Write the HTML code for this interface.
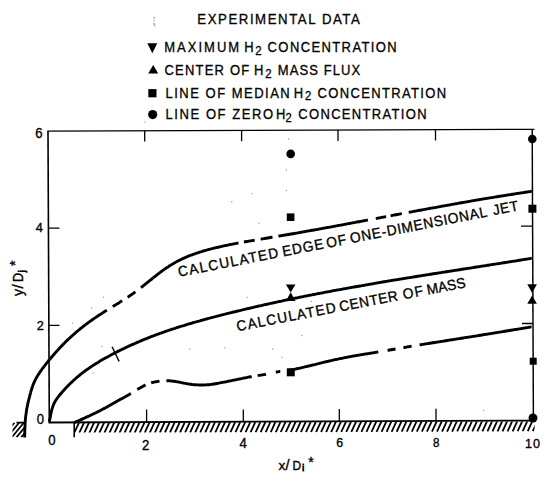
<!DOCTYPE html>
<html><head><meta charset="utf-8"><style>
html,body{margin:0;padding:0;background:#fff;width:550px;height:482px;overflow:hidden}
svg{display:block}
text{font-family:"Liberation Sans",sans-serif}
</style></head><body>
<svg width="550" height="482" viewBox="0 0 550 482">
<rect width="550" height="482" fill="#fff"/>
<defs><clipPath id="hc"><rect x="74.6" y="421.5" width="460" height="11"/></clipPath><clipPath id="hl"><rect x="12.5" y="422.5" width="12.5" height="15"/></clipPath></defs>
<g stroke="#000" fill="none" stroke-linecap="butt">
<path d="M48 131.2 L49.3 422.6" stroke-width="1.6"/>
<path d="M47.2 131.2 L534.5 129.3" stroke-width="1.35"/>
<path d="M532.2 129.3 L533.4 421" stroke-width="1.45"/>
<path d="M48.5 422.5 L535 420.6" stroke-width="1.8"/>
<path d="M16.5 422.6 L25 422.6" stroke-width="1.8"/>
<path d="M74.2 422.5 L74.2 437.3" stroke-width="1.6"/>
<path d="M48.5 228.2 L59.4 228.2 M49 325.4 L59.5 325.4" stroke-width="1.3"/>
<path d="M144.7 130.7 L144.7 141.5 M241.6 130.3 L241.6 141.3 M338 130 L338 141 M435.5 129.6 L435.5 140.5" stroke-width="1.3"/>
<path d="M146.6 422 L146.6 409.6 M243.3 421.7 L243.3 409.4 M339.3 421.3 L339.3 409 M436 420.9 L436 408.8" stroke-width="1.3"/>
<path d="M521 226.2 L532.5 226.2 M522 323.5 L532.8 323.5" stroke-width="1.3"/>
<g clip-path="url(#hc)"><g transform="rotate(-0.24 74.6 422)"><path d="M69.06 433.10 L73.86 422.80 M74.10 433.10 L78.90 422.80 M79.14 433.10 L83.94 422.80 M84.18 433.10 L88.98 422.80 M89.22 433.10 L94.02 422.80 M94.26 433.10 L99.06 422.80 M99.30 433.10 L104.10 422.80 M104.34 433.10 L109.14 422.80 M109.38 433.10 L114.18 422.80 M114.42 433.10 L119.22 422.80 M119.46 433.10 L124.26 422.80 M124.50 433.10 L129.30 422.80 M129.54 433.10 L134.34 422.80 M134.58 433.10 L139.38 422.80 M139.62 433.10 L144.42 422.80 M144.66 433.10 L149.46 422.80 M149.70 433.10 L154.50 422.80 M154.74 433.10 L159.54 422.80 M159.78 433.10 L164.58 422.80 M164.82 433.10 L169.62 422.80 M169.86 433.10 L174.66 422.80 M174.90 433.10 L179.70 422.80 M179.94 433.10 L184.74 422.80 M184.98 433.10 L189.78 422.80 M190.02 433.10 L194.82 422.80 M195.06 433.10 L199.86 422.80 M200.10 433.10 L204.90 422.80 M205.14 433.10 L209.94 422.80 M210.18 433.10 L214.98 422.80 M215.22 433.10 L220.02 422.80 M220.26 433.10 L225.06 422.80 M225.30 433.10 L230.10 422.80 M230.34 433.10 L235.14 422.80 M235.38 433.10 L240.18 422.80 M240.42 433.10 L245.22 422.80 M245.46 433.10 L250.26 422.80 M250.50 433.10 L255.30 422.80 M255.54 433.10 L260.34 422.80 M260.58 433.10 L265.38 422.80 M265.62 433.10 L270.42 422.80 M270.66 433.10 L275.46 422.80 M275.70 433.10 L280.50 422.80 M280.74 433.10 L285.54 422.80 M285.78 433.10 L290.58 422.80 M290.82 433.10 L295.62 422.80 M295.86 433.10 L300.66 422.80 M300.90 433.10 L305.70 422.80 M305.94 433.10 L310.74 422.80 M310.98 433.10 L315.78 422.80 M316.02 433.10 L320.82 422.80 M321.06 433.10 L325.86 422.80 M326.10 433.10 L330.90 422.80 M331.14 433.10 L335.94 422.80 M336.18 433.10 L340.98 422.80 M341.22 433.10 L346.02 422.80 M346.26 433.10 L351.06 422.80 M351.30 433.10 L356.10 422.80 M356.34 433.10 L361.14 422.80 M361.38 433.10 L366.18 422.80 M366.42 433.10 L371.22 422.80 M371.46 433.10 L376.26 422.80 M376.50 433.10 L381.30 422.80 M381.54 433.10 L386.34 422.80 M386.58 433.10 L391.38 422.80 M391.62 433.10 L396.42 422.80 M396.66 433.10 L401.46 422.80 M401.70 433.10 L406.50 422.80 M406.74 433.10 L411.54 422.80 M411.78 433.10 L416.58 422.80 M416.82 433.10 L421.62 422.80 M421.86 433.10 L426.66 422.80 M426.90 433.10 L431.70 422.80 M431.94 433.10 L436.74 422.80 M436.98 433.10 L441.78 422.80 M442.02 433.10 L446.82 422.80 M447.06 433.10 L451.86 422.80 M452.10 433.10 L456.90 422.80 M457.14 433.10 L461.94 422.80 M462.18 433.10 L466.98 422.80 M467.22 433.10 L472.02 422.80 M472.26 433.10 L477.06 422.80 M477.30 433.10 L482.10 422.80 M482.34 433.10 L487.14 422.80 M487.38 433.10 L492.18 422.80 M492.42 433.10 L497.22 422.80 M497.46 433.10 L502.26 422.80 M502.50 433.10 L507.30 422.80 M507.54 433.10 L512.34 422.80 M512.58 433.10 L517.38 422.80 M517.62 433.10 L522.42 422.80 M522.66 433.10 L527.46 422.80 M527.70 433.10 L532.50 422.80 M532.74 433.10 L537.54 422.80 M537.78 433.10 L542.58 422.80 M542.82 433.10 L547.62 422.80 " stroke-width="1.8"/></g></g>
<g clip-path="url(#hl)"><path d="M-7.00 437.30 L5.00 422.80 M-2.30 437.30 L9.70 422.80 M2.40 437.30 L14.40 422.80 M7.10 437.30 L19.10 422.80 M11.80 437.30 L23.80 422.80 M16.50 437.30 L28.50 422.80 M21.20 437.30 L33.20 422.80 M25.90 437.30 L37.90 422.80 M30.60 437.30 L42.60 422.80 " stroke-width="1.8"/></g>
<path d="M24.7 437.5 L24.7 436.5 L24.7 435.5 L24.7 434.5 L24.8 433.5 L24.8 432.5 L24.8 431.5 L24.8 430.5 L24.8 429.5 L24.9 428.5 L24.9 427.5 L25.0 426.5 L25.0 425.5 L25.1 424.5 L25.1 423.5 L25.2 422.5 L25.3 421.5 L25.3 420.5 L25.4 419.5 L25.5 418.5 L25.6 417.5 L25.7 416.5 L25.8 415.5 L26.0 414.6 L26.1 413.6 L26.2 412.6 L26.4 411.6 L26.5 410.6 L26.7 409.6 L26.8 408.6 L27.0 407.6 L27.2 406.7 L27.4 405.7 L27.6 404.7 L27.8 403.7 L28.0 402.7 L28.3 401.8 L28.5 400.8 L28.7 399.8 L29.0 398.9 L29.2 397.9 L29.5 396.9 L29.7 396.0 L30.0 395.0 L30.2 394.0 L30.5 393.1 L30.7 392.1 L31.0 391.1 L31.3 390.2 L31.6 389.2 L31.9 388.3 L32.2 387.3 L32.5 386.4 L32.8 385.4 L33.2 384.5 L33.6 383.6 L34.0 382.7 L34.4 381.7 L34.8 380.8 L35.2 380.0 L35.7 379.1 L36.2 378.2 L36.7 377.3 L37.2 376.5 L37.7 375.6 L38.2 374.8 L38.8 373.9 L39.3 373.1 L39.9 372.3 L40.4 371.4 L41.0 370.6 L41.6 369.8 L42.2 369.0 L42.8 368.2 L43.4 367.4 L44.0 366.6 L44.6 365.8 L45.2 365.0 L45.8 364.2 L46.4 363.4 L47.0 362.7 L47.7 361.9 L48.3 361.1 L48.9 360.3 L49.6 359.6 L50.2 358.8 L50.9 358.0 L51.5 357.3 L52.1 356.5 L52.8 355.7 L53.4 355.0 L54.1 354.2 L54.8 353.5 L55.4 352.7 L56.1 352.0 L56.7 351.2 L57.4 350.5 L58.1 349.7 L58.8 349.0 L59.4 348.3 L60.1 347.5 L60.8 346.8 L61.5 346.1 L62.2 345.4 L62.9 344.6 L63.6 343.9 L64.3 343.2 L65.0 342.5 L65.7 341.8 L66.4 341.1 L67.1 340.4 L67.9 339.7 L68.6 339.0 L69.3 338.3 L70.1 337.7 L70.8 337.0 L71.5 336.3 L72.3 335.6 L73.0 335.0 L73.8 334.3 L74.5 333.7 L75.3 333.0 L76.0 332.3 L76.8 331.7 L77.5 331.0 L78.3 330.4 L79.1 329.8 L79.9 329.1 L80.6 328.5 L81.4 327.9 L82.2 327.3 L83.0 326.6 L83.8 326.0 L84.6 325.4 L85.4 324.8 L86.2 324.2 L87.0 323.6 L87.8 323.0 L88.6 322.4 L89.4 321.8 L90.2 321.2 L91.0 320.7 L91.8 320.1 L92.6 319.5 L93.4 318.9 L94.3 318.4 L95.1 317.8 L95.9 317.2 L96.8 316.7 L97.6 316.1 L98.4 315.6 L99.3 315.0 L100.1 314.5 L100.9 313.9 L101.8 313.4 L102.6 312.9 L103.5 312.3 L104.3 311.8 L105.2 311.3 L106.0 310.7 L106.9 310.2 M112.8 306.6 L113.7 306.0 L114.5 305.5 L115.4 305.0 L116.2 304.5 L117.1 303.9 L117.9 303.4 L118.8 302.9 L119.6 302.4 L120.5 301.8 L121.3 301.3 L122.2 300.8 M127.6 297.2 L128.5 296.7 L129.3 296.1 L130.1 295.6 L130.9 295.0 L131.8 294.4 L132.6 293.9 L133.4 293.3 L134.2 292.7 L135.0 292.1 L135.4 291.8 M141.0 287.6 L141.8 287.0 L142.6 286.4 L143.4 285.7 L144.2 285.1 L144.9 284.5 L145.7 283.9 L146.5 283.2 L147.3 282.6 L148.1 282.0 L148.8 281.4 L149.6 280.7 L150.4 280.1 L151.2 279.5 L151.9 278.9 L152.7 278.2 L153.5 277.6 L154.3 277.0 L155.1 276.4 L155.9 275.7 L156.7 275.1 L157.4 274.5 L158.2 273.9 L159.0 273.3 L159.8 272.7 L160.6 272.1 L161.4 271.5 L162.2 270.9 L163.0 270.3 L163.8 269.7 L164.7 269.1 L165.5 268.6 L166.3 268.0 L167.1 267.4 L168.0 266.9 L168.8 266.4 L169.6 265.8 L170.5 265.3 L171.3 264.8 L172.2 264.2 L173.1 263.7 L173.9 263.2 L174.8 262.7 L175.7 262.2 L176.5 261.8 L177.4 261.3 L178.3 260.8 L179.2 260.4 L180.1 259.9 L181.0 259.5 L181.9 259.0 L182.8 258.6 L183.7 258.2 L184.6 257.8 L185.5 257.4 L186.4 257.0 L187.4 256.6 L188.3 256.2 L189.2 255.8 L190.1 255.5 L191.1 255.1 L192.0 254.8 L192.9 254.4 L193.9 254.1 L194.8 253.8 L195.8 253.4 L196.7 253.1 L197.7 252.8 L198.6 252.5 L199.6 252.2 L200.5 251.9 L201.5 251.6 L202.4 251.3 L203.4 251.0 L204.4 250.7 L205.3 250.5 L206.3 250.2 L207.2 249.9 L208.2 249.7 L209.2 249.4 L210.1 249.2 L211.1 248.9 L212.1 248.7 L213.1 248.4 L214.0 248.2 L215.0 247.9 L216.0 247.7 L216.9 247.5 L217.9 247.3 L218.9 247.0 L219.9 246.8 L220.8 246.6 L221.8 246.4 L222.8 246.2 L223.8 245.9 L224.7 245.7 L225.7 245.5 L226.7 245.3 L227.7 245.1 L228.7 244.9 L229.6 244.7 L230.6 244.5 L231.6 244.3 L232.6 244.1 L233.6 243.9 L234.5 243.7 L235.5 243.6 L236.5 243.4 L237.5 243.2 L238.5 243.0 M243.9 242.0 L244.9 241.8 L245.9 241.7 L246.8 241.5 L247.8 241.3 L248.8 241.1 L249.8 241.0 L250.8 240.8 L251.8 240.6 L252.7 240.5 L253.7 240.3 L254.7 240.1 M260.6 239.1 L261.6 239.0 L262.6 238.8 L263.6 238.6 L264.6 238.5 L265.6 238.3 L266.6 238.2 L267.5 238.0 L268.5 237.8 L269.5 237.7 L270.5 237.5 L271.5 237.3 L272.5 237.2 M278.4 236.2 L279.4 236.0 L280.4 235.9 L281.4 235.7 L282.3 235.5 L283.3 235.4 L284.3 235.2 L285.3 235.0 L286.3 234.8 L287.3 234.7 L288.3 234.5 L289.2 234.3 L290.2 234.2 L291.2 234.0 L292.2 233.8 L293.2 233.7 L294.2 233.5 L295.2 233.3 L296.1 233.1 L297.1 233.0 L298.1 232.8 L299.1 232.6 L300.1 232.4 L301.1 232.3 L302.0 232.1 L303.0 231.9 L304.0 231.7 L305.0 231.6 L306.0 231.4 L307.0 231.2 L308.0 231.0 L308.9 230.9 L309.9 230.7 L310.9 230.5 L311.9 230.3 L312.9 230.2 L313.9 230.0 L314.8 229.8 L315.8 229.6 L316.8 229.5 L317.8 229.3 L318.8 229.1 L319.8 228.9 L320.7 228.7 L321.7 228.6 L322.7 228.4 L323.7 228.2 L324.7 228.0 L325.7 227.9 L326.7 227.7 L327.6 227.5 L328.6 227.3 L329.6 227.1 L330.6 227.0 L331.6 226.8 L332.6 226.6 L333.5 226.4 L334.5 226.2 L335.5 226.1 L336.5 225.9 L337.5 225.7 L338.5 225.5 L339.4 225.3 L340.4 225.1 L341.4 225.0 L342.4 224.8 L343.4 224.6 L344.4 224.4 L345.3 224.2 L346.3 224.1 L347.3 223.9 L348.3 223.7 L349.3 223.5 L350.3 223.3 L351.2 223.1 L352.2 222.9 L353.2 222.8 L354.2 222.6 L355.2 222.4 L356.1 222.2 L357.1 222.0 L358.1 221.8 L359.1 221.7 L360.1 221.5 L361.1 221.3 L362.0 221.1 L363.0 220.9 L364.0 220.7 L365.0 220.6 L366.0 220.4 L367.0 220.2 L367.9 220.0 M375.8 218.5 L376.8 218.4 L377.8 218.2 L378.8 218.0 L379.7 217.8 L380.7 217.6 L381.7 217.4 L382.7 217.2 L383.7 217.1 L384.7 216.9 L385.6 216.7 L386.1 216.6 M390.6 215.8 L391.5 215.6 L392.5 215.4 L393.5 215.2 L394.5 215.0 L395.5 214.8 L396.4 214.7 L397.4 214.5 L398.4 214.3 L399.4 214.1 L400.4 213.9 L401.4 213.7 L401.9 213.6 M408.7 212.3 L409.7 212.1 L410.7 212.0 L411.7 211.8 L412.7 211.6 L413.6 211.4 L414.6 211.2 L415.6 211.1 L416.6 210.9 L417.6 210.7 L418.6 210.5 L419.5 210.3 L420.5 210.2 L421.5 210.0 L422.5 209.8 L423.5 209.6 L424.5 209.4 L425.4 209.3 L426.4 209.1 L427.4 208.9 L428.4 208.7 L429.4 208.5 L430.4 208.4 L431.4 208.2 L432.3 208.0 L433.3 207.8 L434.3 207.6 L435.3 207.5 L436.3 207.3 L437.3 207.1 L438.2 206.9 L439.2 206.8 L440.2 206.6 L441.2 206.4 L442.2 206.2 L443.2 206.0 L444.1 205.9 L445.1 205.7 L446.1 205.5 L447.1 205.3 L448.1 205.1 L449.1 205.0 L450.0 204.8 L451.0 204.6 L452.0 204.4 L453.0 204.3 L454.0 204.1 L455.0 203.9 L456.0 203.7 L456.9 203.6 L457.9 203.4 L458.9 203.2 L459.9 203.0 L460.9 202.8 L461.9 202.7 L462.8 202.5 L463.8 202.3 L464.8 202.1 L465.8 202.0 L466.8 201.8 L467.8 201.6 L468.8 201.5 L469.7 201.3 L470.7 201.1 L471.7 200.9 L472.7 200.8 L473.7 200.6 L474.7 200.4 L475.6 200.3 L476.6 200.1 L477.6 199.9 L478.6 199.7 L479.6 199.6 L480.6 199.4 L481.6 199.2 L482.5 199.1 L483.5 198.9 L484.5 198.7 L485.5 198.6 L486.5 198.4 L487.5 198.3 L488.5 198.1 L489.5 197.9 L490.4 197.8 L491.4 197.6 L492.4 197.5 L493.4 197.3 L494.4 197.1 L495.4 197.0 L496.4 196.8 L497.4 196.7 L498.3 196.5 L499.3 196.3 L500.3 196.2 L501.3 196.0 L502.3 195.9 L503.3 195.7 L504.3 195.6 L505.3 195.4 L506.2 195.2 L507.2 195.1 L508.2 194.9 L509.2 194.8 L510.2 194.6 L511.2 194.5 L512.2 194.3 L513.2 194.2 L514.1 194.0 L515.1 193.9 L516.1 193.7 L517.1 193.5 L518.1 193.4 L519.1 193.2 L520.1 193.1 L521.1 192.9 L522.0 192.8 L523.0 192.6 L524.0 192.5 L525.0 192.3 L526.0 192.2 L527.0 192.0 L528.0 191.9 L529.0 191.7 L530.0 191.6 L530.9 191.4 L531.9 191.2 " stroke-width="2.9"/>
<path d="M49.3 421.5 L49.5 420.5 L49.7 419.6 L49.9 418.6 L50.2 417.6 L50.4 416.6 L50.5 415.6 L50.7 414.7 L50.9 413.7 L51.1 412.7 L51.4 411.7 L51.6 410.8 L51.8 409.8 L52.1 408.8 L52.4 407.9 L52.7 406.9 L53.0 406.0 L53.4 405.1 L53.7 404.2 L54.2 403.3 L54.6 402.4 L55.1 401.5 L55.6 400.6 L56.1 399.8 L56.7 399.0 L57.2 398.2 L57.8 397.4 L58.5 396.6 L59.1 395.8 L59.7 395.0 L60.3 394.3 L61.0 393.5 L61.6 392.7 L62.3 392.0 L62.9 391.2 L63.6 390.5 L64.3 389.7 L64.9 389.0 L65.6 388.3 L66.3 387.5 L67.0 386.8 L67.7 386.1 L68.4 385.4 L69.1 384.7 L69.8 384.0 L70.5 383.3 L71.2 382.6 L72.0 381.9 L72.7 381.2 L73.4 380.5 L74.2 379.9 L74.9 379.2 L75.7 378.5 L76.4 377.9 L77.2 377.2 L77.9 376.6 L78.7 375.9 L79.5 375.3 L80.2 374.7 L81.0 374.0 L81.8 373.4 L82.6 372.8 L83.4 372.2 L84.2 371.6 L85.0 371.0 L85.8 370.4 L86.6 369.8 L87.4 369.2 L88.2 368.7 L89.1 368.1 L89.9 367.5 L90.7 367.0 L91.5 366.4 L92.4 365.9 L93.2 365.3 L94.1 364.8 L94.9 364.3 L95.8 363.7 L96.6 363.2 L97.5 362.7 L98.3 362.2 L99.2 361.6 L100.0 361.1 L100.9 360.6 L101.8 360.1 L102.6 359.6 L103.5 359.1 L104.4 358.6 L105.2 358.1 L106.1 357.7 L107.0 357.2 L107.9 356.7 L108.7 356.2 L109.6 355.7 L110.5 355.3 L111.4 354.8 L112.3 354.3 L113.1 353.9 L114.0 353.4 L114.9 352.9 L115.8 352.5 L116.7 352.0 L117.6 351.6 L118.5 351.1 L119.4 350.7 L120.3 350.2 L121.2 349.8 L122.1 349.3 L123.0 348.9 L123.9 348.5 L124.8 348.0 L125.7 347.6 L126.6 347.2 L127.5 346.8 L128.4 346.3 L129.3 345.9 L130.2 345.5 L131.1 345.1 L132.0 344.7 L132.9 344.3 L133.9 343.9 L134.8 343.5 L135.7 343.1 L136.6 342.7 L137.5 342.3 L138.4 341.9 L139.4 341.5 L140.3 341.1 L141.2 340.7 L142.1 340.3 L143.0 339.9 L144.0 339.5 L144.9 339.2 L145.8 338.8 L146.8 338.4 L147.7 338.1 L148.6 337.7 L149.5 337.3 L150.5 337.0 L151.4 336.6 L152.3 336.2 L153.3 335.9 L154.2 335.5 L155.1 335.2 L156.1 334.8 L157.0 334.5 L158.0 334.1 L158.9 333.8 L159.8 333.5 L160.8 333.1 L161.7 332.8 L162.7 332.4 L163.6 332.1 L164.5 331.8 L165.5 331.4 L166.4 331.1 L167.4 330.8 L168.3 330.5 L169.3 330.1 L170.2 329.8 L171.2 329.5 L172.1 329.2 L173.1 328.9 L174.0 328.6 L175.0 328.3 L175.9 328.0 L176.9 327.6 L177.8 327.3 L178.8 327.0 L179.7 326.7 L180.7 326.4 L181.6 326.1 L182.6 325.9 L183.6 325.6 L184.5 325.3 L185.5 325.0 L186.4 324.7 L187.4 324.4 L188.3 324.1 L189.3 323.8 L190.3 323.5 L191.2 323.3 L192.2 323.0 L193.1 322.7 L194.1 322.4 L195.1 322.2 L196.0 321.9 L197.0 321.6 L197.9 321.3 L198.9 321.1 L199.9 320.8 L200.8 320.5 L201.8 320.3 L202.8 320.0 L203.7 319.7 L204.7 319.5 L205.7 319.2 L206.6 319.0 L207.6 318.7 L208.6 318.4 L209.5 318.2 L210.5 317.9 L211.5 317.7 L212.4 317.4 L213.4 317.2 L214.4 316.9 L215.3 316.6 L216.3 316.4 L217.3 316.1 L218.2 315.9 L219.2 315.6 L220.2 315.4 L221.1 315.1 L222.1 314.9 L223.1 314.7 L224.0 314.4 L225.0 314.2 L226.0 313.9 L227.0 313.7 L227.9 313.4 L228.9 313.2 L229.9 313.0 L230.8 312.7 L231.8 312.5 L232.8 312.2 L233.7 312.0 L234.7 311.8 L235.7 311.5 L236.7 311.3 L237.6 311.0 L238.6 310.8 L239.6 310.6 L240.5 310.3 L241.5 310.1 L242.5 309.9 L243.5 309.6 L244.4 309.4 L245.4 309.2 L246.4 309.0 L247.4 308.7 L248.3 308.5 L249.3 308.3 L250.3 308.0 L251.3 307.8 L252.2 307.6 L253.2 307.4 L254.2 307.1 L255.2 306.9 L256.1 306.7 L257.1 306.5 L258.1 306.2 L259.0 306.0 L260.0 305.8 L261.0 305.6 L262.0 305.4 L263.0 305.1 L263.9 304.9 L264.9 304.7 L265.9 304.5 L266.9 304.3 L267.8 304.0 L268.8 303.8 L269.8 303.6 L270.8 303.4 L271.7 303.2 L272.7 303.0 L273.7 302.8 L274.7 302.5 L275.6 302.3 L276.6 302.1 L277.6 301.9 L278.6 301.7 L279.6 301.5 L280.5 301.3 L281.5 301.1 L282.5 300.9 L283.5 300.7 L284.4 300.4 L285.4 300.2 L286.4 300.0 L287.4 299.8 L288.4 299.6 L289.3 299.4 L290.3 299.2 L291.3 299.0 L292.3 298.8 L293.3 298.6 L294.2 298.4 L295.2 298.2 L296.2 298.0 L297.2 297.8 L298.2 297.6 L299.1 297.4 L300.1 297.2 L301.1 297.0 L302.1 296.8 L303.1 296.6 L304.0 296.4 L305.0 296.2 L306.0 296.0 L307.0 295.8 L308.0 295.6 L308.9 295.4 L309.9 295.2 L310.9 295.1 L311.9 294.9 L312.9 294.7 L313.8 294.5 L314.8 294.3 L315.8 294.1 L316.8 293.9 L317.8 293.7 L318.8 293.5 L319.7 293.3 L320.7 293.1 L321.7 293.0 L322.7 292.8 L323.7 292.6 L324.6 292.4 L325.6 292.2 L326.6 292.0 L327.6 291.8 L328.6 291.6 L329.6 291.5 L330.5 291.3 L331.5 291.1 L332.5 290.9 L333.5 290.7 L334.5 290.5 L335.5 290.4 L336.4 290.2 L337.4 290.0 L338.4 289.8 L339.4 289.6 L340.4 289.5 L341.4 289.3 L342.3 289.1 L343.3 288.9 L344.3 288.8 L345.3 288.6 L346.3 288.4 L347.3 288.2 L348.3 288.1 L349.2 287.9 L350.2 287.7 L351.2 287.5 L352.2 287.4 L353.2 287.2 L354.2 287.0 L355.1 286.8 L356.1 286.7 L357.1 286.5 L358.1 286.3 L359.1 286.2 L360.1 286.0 L361.1 285.8 L362.0 285.6 L363.0 285.5 L364.0 285.3 L365.0 285.1 L366.0 284.9 L367.0 284.8 L367.9 284.6 L368.9 284.4 L369.9 284.2 L370.9 284.1 L371.9 283.9 L372.9 283.7 L373.9 283.6 L374.8 283.4 L375.8 283.2 L376.8 283.0 L377.8 282.9 L378.8 282.7 L379.8 282.5 L380.8 282.4 L381.7 282.2 L382.7 282.0 L383.7 281.8 L384.7 281.7 L385.7 281.5 L386.7 281.4 L387.7 281.2 L388.6 281.0 L389.6 280.9 L390.6 280.7 L391.6 280.5 L392.6 280.4 L393.6 280.2 L394.6 280.0 L395.5 279.9 L396.5 279.7 L397.5 279.6 L398.5 279.4 L399.5 279.2 L400.5 279.1 L401.5 278.9 L402.5 278.8 L403.4 278.6 L404.4 278.4 L405.4 278.3 L406.4 278.1 L407.4 277.9 L408.4 277.8 L409.4 277.6 L410.4 277.5 L411.3 277.3 L412.3 277.1 L413.3 277.0 L414.3 276.8 L415.3 276.7 L416.3 276.5 L417.3 276.3 L418.3 276.2 L419.2 276.0 L420.2 275.9 L421.2 275.7 L422.2 275.6 L423.2 275.4 L424.2 275.2 L425.2 275.1 L426.2 274.9 L427.1 274.8 L428.1 274.6 L429.1 274.5 L430.1 274.3 L431.1 274.2 L432.1 274.0 L433.1 273.8 L434.1 273.7 L435.0 273.5 L436.0 273.4 L437.0 273.2 L438.0 273.1 L439.0 272.9 L440.0 272.8 L441.0 272.6 L442.0 272.4 L442.9 272.3 L443.9 272.1 L444.9 272.0 L445.9 271.8 L446.9 271.7 L447.9 271.5 L448.9 271.4 L449.9 271.2 L450.8 271.1 L451.8 270.9 L452.8 270.7 L453.8 270.6 L454.8 270.4 L455.8 270.3 L456.8 270.1 L457.8 270.0 L458.8 269.8 L459.7 269.7 L460.7 269.5 L461.7 269.3 L462.7 269.2 L463.7 269.0 L464.7 268.9 L465.7 268.7 L466.7 268.6 L467.6 268.4 L468.6 268.3 L469.6 268.1 L470.6 268.0 L471.6 267.8 L472.6 267.6 L473.6 267.5 L474.6 267.3 L475.5 267.2 L476.5 267.0 L477.5 266.9 L478.5 266.7 L479.5 266.6 L480.5 266.4 L481.5 266.2 L482.5 266.1 L483.4 265.9 L484.4 265.8 L485.4 265.6 L486.4 265.5 L487.4 265.3 L488.4 265.2 L489.4 265.0 L490.4 264.9 L491.4 264.7 L492.3 264.5 L493.3 264.4 L494.3 264.2 L495.3 264.1 L496.3 263.9 L497.3 263.8 L498.3 263.6 L499.3 263.5 L500.2 263.3 L501.2 263.1 L502.2 263.0 L503.2 262.8 L504.2 262.7 L505.2 262.5 L506.2 262.4 L507.2 262.2 L508.1 262.1 L509.1 261.9 L510.1 261.7 L511.1 261.6 L512.1 261.4 L513.1 261.3 L514.1 261.1 L515.1 261.0 L516.0 260.8 L517.0 260.6 L518.0 260.5 L519.0 260.3 L520.0 260.2 L521.0 260.0 L522.0 259.9 L523.0 259.7 L523.9 259.5 L524.9 259.4 L525.9 259.2 L526.9 259.1 L527.9 258.9 L528.9 258.8 L529.9 258.6 L530.9 258.4 L531.8 258.3 " stroke-width="2.9"/>
<path d="M74.5 422.5 L75.4 422.1 L76.3 421.7 L77.2 421.3 L78.2 420.9 L79.1 420.5 L80.0 420.1 L80.9 419.7 L81.8 419.3 L82.7 418.9 L83.6 418.4 L84.6 418.0 L85.5 417.6 L86.4 417.2 L87.3 416.8 L88.2 416.4 L89.1 416.0 L90.0 415.5 L90.9 415.1 L91.8 414.7 L92.7 414.3 L93.6 413.8 L94.5 413.4 L95.4 413.0 L96.3 412.5 L97.2 412.1 L98.1 411.6 L99.0 411.2 L99.9 410.7 L100.8 410.2 L101.7 409.8 L102.5 409.3 L103.4 408.8 L104.3 408.4 L105.2 407.9 L106.1 407.4 L106.9 406.9 L107.8 406.4 L108.7 405.9 L109.6 405.5 L110.4 405.0 L111.3 404.5 L112.2 404.0 L113.0 403.5 L113.9 403.0 L114.8 402.5 L115.7 402.1 L116.5 401.6 L117.4 401.1 L118.3 400.6 L119.2 400.1 L120.0 399.6 L120.9 399.1 L121.8 398.7 L122.7 398.2 L123.5 397.7 L124.4 397.2 L125.3 396.7 L126.1 396.2 L127.0 395.7 L127.9 395.2 L128.8 394.7 L129.6 394.2 L130.5 393.7 L130.9 393.5 M137.3 389.6 L138.2 389.0 L139.0 388.5 L139.9 388.0 L140.8 387.5 L141.6 387.0 L142.5 386.6 L143.4 386.1 L144.3 385.6 L145.2 385.2 L145.6 385.0 M151.2 382.8 L152.1 382.5 L153.1 382.3 L154.0 382.1 L155.0 381.9 L156.0 381.7 L157.0 381.6 L158.0 381.4 L159.0 381.3 L159.5 381.2 M166.4 380.8 L167.4 380.8 L168.4 380.8 L169.4 380.8 L170.4 380.9 L171.4 381.0 L172.4 381.1 L173.4 381.2 L174.4 381.3 L175.4 381.5 L176.3 381.6 L177.3 381.8 L178.3 382.0 L179.3 382.2 L180.3 382.4 L181.3 382.6 L182.2 382.8 L183.2 383.0 L184.2 383.2 L185.2 383.4 L186.2 383.6 L187.1 383.7 L188.1 383.9 L189.1 384.1 L190.1 384.2 L191.1 384.3 L192.1 384.5 L193.1 384.6 L194.1 384.7 L195.1 384.8 L196.1 384.8 L197.1 384.9 L198.1 384.9 L199.1 385.0 L200.0 385.0 L201.0 385.0 L202.0 385.0 L203.0 385.0 L204.0 385.0 L205.0 384.9 L206.0 384.9 L207.0 384.8 L208.0 384.7 L209.0 384.7 L210.0 384.6 L211.0 384.4 L212.0 384.3 L213.0 384.2 L214.0 384.0 L215.0 383.8 L215.9 383.7 L216.9 383.5 L217.9 383.3 L218.9 383.1 L219.9 382.9 L220.9 382.7 L221.8 382.5 L222.8 382.4 L223.8 382.2 L224.8 382.0 L225.8 381.8 L226.7 381.6 L227.7 381.4 L228.7 381.2 L229.7 381.0 L230.7 380.8 L231.6 380.6 L232.6 380.4 L233.6 380.2 L234.6 380.0 L235.6 379.8 L236.5 379.6 L237.5 379.4 L238.5 379.2 L239.5 379.0 L240.5 378.8 L241.4 378.6 L242.4 378.4 L243.4 378.2 L244.4 378.0 L245.4 377.8 L246.3 377.6 L247.3 377.4 L248.3 377.2 L249.3 377.0 L250.3 376.8 L251.3 376.7 L251.7 376.6 M257.7 375.6 L258.7 375.4 L259.6 375.3 L260.6 375.1 L261.6 375.0 L262.6 374.8 L263.6 374.6 L264.6 374.5 L265.6 374.3 L266.0 374.2 M275.8 372.2 L276.8 372.0 L277.8 371.8 L278.8 371.6 L279.8 371.4 L280.3 371.4 M287.2 370.5 L288.2 370.4 L289.2 370.2 L290.2 370.1 L291.1 369.9 L292.1 369.7 L293.1 369.6 L294.1 369.4 L295.1 369.2 L296.0 369.0 L297.0 368.7 L298.0 368.5 L299.0 368.3 L299.9 368.1 L300.9 367.9 L301.9 367.6 L302.9 367.4 L303.8 367.2 L304.8 366.9 L305.8 366.7 L306.8 366.5 L307.7 366.2 L308.7 366.0 L309.7 365.8 L310.6 365.5 L311.6 365.3 L312.6 365.0 L313.6 364.8 L314.5 364.6 L315.5 364.3 L316.5 364.1 L317.4 363.8 L318.4 363.6 L319.4 363.4 L320.4 363.1 L321.3 362.9 L322.3 362.7 L323.3 362.4 L324.2 362.2 L325.2 362.0 L326.2 361.7 L327.2 361.5 L328.1 361.3 L329.1 361.0 L330.1 360.8 L331.1 360.6 L332.0 360.4 L333.0 360.2 L334.0 359.9 L335.0 359.7 L335.9 359.5 L336.9 359.3 L337.9 359.1 L338.9 358.9 L339.8 358.7 L340.8 358.5 L341.8 358.3 L342.8 358.1 L343.8 357.9 L344.7 357.7 L345.7 357.5 L346.7 357.3 L347.7 357.1 L348.7 356.9 L349.7 356.7 L350.6 356.6 L351.6 356.4 L352.6 356.2 L353.6 356.0 L354.6 355.9 L355.6 355.7 L356.6 355.5 L357.5 355.4 L358.5 355.2 L359.5 355.0 L360.5 354.9 L361.5 354.7 L362.5 354.5 L363.5 354.4 L364.4 354.2 L365.4 354.0 L366.4 353.9 L367.4 353.7 L368.4 353.6 L369.4 353.4 L370.4 353.2 L371.4 353.1 L372.3 352.9 L373.3 352.8 L374.3 352.6 L375.3 352.4 L376.3 352.3 L377.3 352.1 L378.3 351.9 M387.6 350.3 L388.6 350.2 L389.6 350.0 L390.6 349.8 L391.6 349.7 L392.6 349.5 L393.5 349.3 L394.5 349.2 L395.5 349.0 M403.4 347.6 L404.4 347.5 L405.3 347.3 L406.3 347.1 L407.3 346.9 L408.3 346.8 L409.2 346.6 L410.2 346.4 L411.1 346.3 L411.6 346.2 M419.6 344.9 L420.6 344.7 L421.5 344.6 L422.5 344.4 L423.5 344.3 L424.5 344.1 L425.5 343.9 L426.5 343.8 L427.5 343.6 L428.4 343.5 L429.4 343.3 L430.4 343.2 L431.4 343.0 L432.4 342.8 L433.4 342.7 L434.4 342.5 L435.4 342.4 L436.3 342.2 L437.3 342.1 L438.3 341.9 L439.3 341.8 L440.3 341.6 L441.3 341.4 L442.3 341.3 L443.3 341.1 L444.2 341.0 L445.2 340.8 L446.2 340.7 L447.2 340.5 L448.2 340.4 L449.2 340.2 L450.2 340.0 L451.2 339.9 L452.2 339.7 L453.1 339.6 L454.1 339.4 L455.1 339.3 L456.1 339.1 L457.1 338.9 L458.1 338.8 L459.1 338.6 L460.1 338.5 L461.0 338.3 L462.0 338.2 L463.0 338.0 L464.0 337.9 L465.0 337.7 L466.0 337.5 L467.0 337.4 L468.0 337.2 L468.9 337.1 L469.9 336.9 L470.9 336.8 L471.9 336.6 L472.9 336.4 L473.9 336.3 L474.9 336.1 L475.9 336.0 L476.8 335.8 L477.8 335.6 L478.8 335.5 L479.8 335.3 L480.8 335.2 L481.8 335.0 L482.8 334.9 L483.8 334.7 L484.7 334.5 L485.7 334.4 L486.7 334.2 L487.7 334.1 L488.7 333.9 L489.7 333.7 L490.7 333.6 L491.6 333.4 L492.6 333.3 L493.6 333.1 L494.6 332.9 L495.6 332.8 L496.6 332.6 L497.6 332.4 L498.6 332.3 L499.5 332.1 L500.5 332.0 L501.5 331.8 L502.5 331.6 L503.5 331.5 L504.5 331.3 L505.5 331.2 L506.5 331.0 L507.4 330.8 L508.4 330.7 L509.4 330.5 L510.4 330.3 L511.4 330.2 L512.4 330.0 L513.4 329.9 L514.3 329.7 L515.3 329.5 L516.3 329.4 L517.3 329.2 L518.3 329.1 L519.3 328.9 L520.3 328.7 L521.3 328.6 L522.2 328.4 L523.2 328.2 L524.2 328.1 L525.2 327.9 L526.2 327.8 L527.2 327.6 L528.2 327.4 L529.1 327.3 L530.1 327.1 L531.1 326.9 L531.6 326.9 " stroke-width="2.9"/>
<path d="M112.1 346.7 L119.1 361.4" stroke-width="1.4"/>
</g>
<g fill="#000">
<circle cx="290.7" cy="153.9" r="4.3"/>
<rect x="286.8" y="213.4" width="7.6" height="7.6"/>
<path d="M285.9 284.5 L295.5 284.5 L290.7 292.4 Z"/>
<path d="M285.9 301 L295.5 301 L290.7 292.2 Z"/>
<rect x="286.8" y="368.3" width="8" height="8"/>
<circle cx="532.3" cy="139" r="4.3"/>
<rect x="528.4" y="204.7" width="8" height="8"/>
<path d="M527.3 284.2 L536.9 284.2 L532.1 293 Z"/>
<path d="M527.3 303.8 L536.9 303.8 L532.1 295.6 Z"/>
<rect x="529.7" y="357.7" width="7" height="7"/>
<circle cx="533" cy="418" r="4.5"/>
<path d="M147.3 43.2 L157.3 43.2 L152.3 53.2 Z"/>
<path d="M148.2 73.4 L158.2 73.4 L153.2 65 Z"/>
<rect x="148.3" y="89.1" width="8.2" height="8.2"/>
<circle cx="152.7" cy="114.6" r="4.6"/>
</g>
<g font-family="Liberation Sans, sans-serif" fill="#000" stroke="#000" stroke-width="0.3">
<text transform="translate(197.29 23.8) scale(0.93 1)" font-size="14.2" textLength="174.79" lengthAdjust="spacing">EXPERIMENTAL DATA</text>
<text transform="translate(164.21 51.8) scale(0.93 1)" font-size="14.0" textLength="80.56" lengthAdjust="spacing">MAXIMUM</text>
<text transform="translate(244.21 51.8) scale(0.93 1)" font-size="14.0">H</text>
<text transform="translate(255.27 55.3) scale(0.93 1)" font-size="12.4">2</text>
<text transform="translate(267.60 51.8) scale(0.93 1)" font-size="14.0" textLength="138.85" lengthAdjust="spacing">CONCENTRATION</text>
<text transform="translate(164.50 75.0) scale(0.93 1)" font-size="14.0" textLength="91.19" lengthAdjust="spacing">CENTER OF</text>
<text transform="translate(254.11 75.0) scale(0.93 1)" font-size="14.0">H</text>
<text transform="translate(265.18 77.9) scale(0.93 1)" font-size="12.2">2</text>
<text transform="translate(277.81 75.0) scale(0.93 1)" font-size="14.0" textLength="88.54" lengthAdjust="spacing">MASS FLUX</text>
<text transform="translate(165.51 97.7) scale(0.93 1)" font-size="14.0" textLength="133.56" lengthAdjust="spacing">LINE OF MEDIAN</text>
<text transform="translate(293.81 97.7) scale(0.93 1)" font-size="14.0">H</text>
<text transform="translate(304.98 100.1) scale(0.93 1)" font-size="12.2">2</text>
<text transform="translate(317.50 97.7) scale(0.93 1)" font-size="14.0" textLength="138.32" lengthAdjust="spacing">CONCENTRATION</text>
<text transform="translate(165.51 119.4) scale(0.93 1)" font-size="14.0" textLength="115.73" lengthAdjust="spacing">LINE OF ZERO</text>
<text transform="translate(275.91 119.4) scale(0.93 1)" font-size="14.0">H</text>
<text transform="translate(285.39 122.2) scale(0.93 1)" font-size="12.0">2</text>
<text transform="translate(298.30 119.4) scale(0.93 1)" font-size="14.0" textLength="137.89" lengthAdjust="spacing">CONCENTRATION</text>
</g>
<g font-family="Liberation Sans, sans-serif" fill="#000" stroke="#000" stroke-width="0.35">
<text transform="translate(35.32 137.5) scale(0.93 1)" font-size="14.14">6</text>
<text transform="translate(35.82 232.3) scale(0.93 1)" font-size="13.71">4</text>
<text transform="translate(36.84 330.3) scale(0.93 1)" font-size="13.71">2</text>
<text transform="translate(36.85 423.5) scale(0.93 1)" font-size="14.0">0</text>
<text transform="translate(48.25 445.4) scale(0.93 1)" font-size="14.14">0</text>
<text transform="translate(142.12 449.5) scale(0.93 1)" font-size="14.14">2</text>
<text transform="translate(239.61 448.4) scale(0.93 1)" font-size="14.14">4</text>
<text transform="translate(336.26 447) scale(0.93 1)" font-size="13.29">6</text>
<text transform="translate(433.05 446.7) scale(0.93 1)" font-size="12.43">8</text>
<text transform="translate(525.03 448) scale(0.93 1)" font-size="13.57" textLength="16.20" lengthAdjust="spacing">10</text>
<text y="469.7" font-size="13.6"><tspan x="278.6">x</tspan><tspan x="285.6" font-size="14.6" y="470.2">/</tspan></text>
<text transform="translate(292.6 469.7) scale(0.88 1)" font-size="13.6">D</text>
<text x="302.3" y="471.1" font-size="8.6" stroke-width="0.8">i</text>
<text x="308.2" y="467.4" font-size="14">*</text>
<g transform="translate(22.8 296.5) rotate(-90)"><text y="0" font-size="14"><tspan x="0.4">y</tspan><tspan x="8.0" font-size="15.5" y="0.5">/</tspan></text><text transform="translate(14.6 0) scale(0.9 1)" font-size="14">D</text><text x="24.3" y="2.6" font-size="9.2" stroke-width="0.8">j</text><text x="30.6" y="-3" font-size="14">*</text></g>
</g>
<g font-family="Liberation Sans, sans-serif" fill="#000" stroke="#000" stroke-width="0.35">
<g transform="translate(178.9 276.9) rotate(-11.07)"><text transform="translate(0.18 0) scale(0.95 1)" font-size="14.5" textLength="107.25" lengthAdjust="spacing">CALCULATED</text><text transform="translate(106.30 0) scale(0.95 1)" font-size="14.5" textLength="43.90" lengthAdjust="spacing">EDGE</text><text transform="translate(151.08 0) scale(0.95 1)" font-size="14.5" textLength="21.21" lengthAdjust="spacing">OF</text><text transform="translate(175.48 0) scale(0.95 1)" font-size="14.5" textLength="146.57" lengthAdjust="spacing">ONE-DIMENSIONAL</text><text transform="translate(320.89 0) scale(0.95 1)" font-size="14.5" textLength="26.97" lengthAdjust="spacing">JET</text></g>
<g transform="translate(237.3 331.3) rotate(-10.9)"><text transform="translate(0.17 0) scale(0.95 1)" font-size="14.5" textLength="106.05" lengthAdjust="spacing">CALCULATED</text><text transform="translate(104.91 0) scale(0.95 1)" font-size="14.5" textLength="62.35" lengthAdjust="spacing">CENTER</text><text transform="translate(169.48 0) scale(0.95 1)" font-size="14.5" textLength="21.42" lengthAdjust="spacing">OF</text><text transform="translate(193.90 0) scale(0.95 1)" font-size="14.5" textLength="41.24" lengthAdjust="spacing">MASS</text></g>
</g>
<g fill="#999"><circle cx="231.8" cy="201.8" r="0.7"/><circle cx="252.3" cy="193.6" r="0.7"/><circle cx="259" cy="223.2" r="0.7"/><circle cx="286.4" cy="190.5" r="0.7"/><circle cx="286.4" cy="170" r="0.7"/><circle cx="288.6" cy="139" r="0.7"/><circle cx="93.2" cy="373.2" r="0.7"/><circle cx="189.8" cy="349" r="0.7"/><circle cx="225" cy="347.7" r="0.7"/><circle cx="272.7" cy="349" r="0.7"/><circle cx="281.8" cy="357.3" r="0.7"/><circle cx="301.8" cy="335.5" r="0.7"/><circle cx="483.6" cy="410.5" r="0.7"/><circle cx="145" cy="122" r="0.7"/><circle cx="103.6" cy="297.3" r="0.7"/><circle cx="91.6" cy="307.9" r="0.7"/><circle cx="72.5" cy="322.9" r="0.7"/><circle cx="102" cy="346.4" r="0.7"/><circle cx="247.2" cy="297.4" r="0.7"/><circle cx="311.4" cy="301.4" r="0.7"/></g>
<path d="M153.5 16.5 L155 17 L155 19 L153.5 19 Z M153.5 20 L155 20.5 L155 21.5 L153.5 21.5 Z M153 22.5 L155 23.5 L156 26.5 L154.5 26.5 L153 24.5 Z" fill="#bbb"/>
</svg>
</body></html>
